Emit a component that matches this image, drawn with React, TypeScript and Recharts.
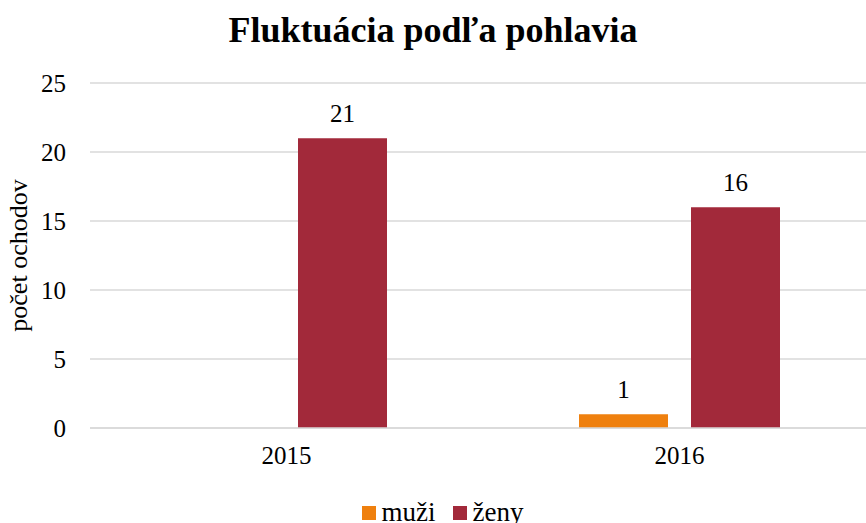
import React from 'react';
import { BarChart, Bar, XAxis, YAxis, CartesianGrid, Legend, LabelList, Label } from 'recharts';

const years = ['2015', '2016'];
const muzi = [0, 1];
const zeny = [21, 16];
const yTicks = [0, 5, 10, 15, 20, 25];

const data = years.map((year, i) => ({ year, muzi: muzi[i], zeny: zeny[i] }));

const FONT = '"Liberation Serif", "Times New Roman", serif';
const ORANGE = '#EF800E';
const RED = '#A2293A';

// legend with Excel-like spacing
const renderLegend = (props: any) => {
  const items = props.payload || [];
  return (
    <div style={{ display: 'flex', justifyContent: 'center', paddingLeft: 9, fontSize: 27, lineHeight: '31px', fontFamily: FONT, color: '#000' }}>
      {items.map((p: any, i: number) => (
        <span key={i} style={{ display: 'inline-flex', alignItems: 'center', marginRight: i < items.length - 1 ? 17 : 0 }}>
          <span style={{ display: 'inline-block', width: 14, height: 14, background: p.color, marginRight: 6 }} />
          <span>{p.value}</span>
        </span>
      ))}
    </div>
  );
};

export default function App() {
  return (
    <div style={{ position: 'absolute', left: 0, top: 0, width: 866, height: 523, fontFamily: FONT, background: '#fff', overflow: 'hidden' }}>
      <div
        style={{
          position: 'absolute',
          top: 9,
          left: 0,
          width: 866,
          textAlign: 'center',
          fontSize: 36,
          fontWeight: 'bold',
          color: '#000',
          lineHeight: '42px',
        }}
      >
        Fluktuácia podľa pohlavia
      </div>
      <BarChart
        width={866}
        height={523}
        data={data}
        margin={{ top: 83, right: -10, bottom: 0, left: 0 }}
        barSize={89}
        barGap={23}
      >
        <CartesianGrid vertical={false} stroke="#D9D9D9" strokeWidth={1.5} />
        <XAxis
          dataKey="year"
          axisLine={{ stroke: '#D9D9D9', strokeWidth: 1.5 }}
          tickLine={false}
          tickSize={0}
          tickMargin={18}
          height={64}
          tick={{ fill: '#000', fontSize: 25, fontFamily: FONT }}
        />
        <YAxis
          domain={[0, 25]}
          ticks={yTicks}
          axisLine={false}
          tickLine={false}
          tickSize={0}
          tickMargin={24}
          width={90}
          tick={{ fill: '#000', fontSize: 25, fontFamily: FONT }}
        >
          <Label
            value="počet ochodov"
            angle={-90}
            position="insideLeft"
            offset={18}
            style={{ textAnchor: 'middle', fill: '#000', fontSize: 26, fontFamily: FONT }}
          />
        </YAxis>
        <Legend
          verticalAlign="bottom"
          content={renderLegend}
          wrapperStyle={{ bottom: -5 }}
        />
        <Bar dataKey="muzi" name="muži" fill={ORANGE} isAnimationActive={false}>
          <LabelList dataKey="muzi" position="top" offset={16} style={{ fill: '#000', fontSize: 25, fontFamily: FONT }} />
        </Bar>
        <Bar dataKey="zeny" name="ženy" fill={RED} isAnimationActive={false}>
          <LabelList dataKey="zeny" position="top" offset={16} style={{ fill: '#000', fontSize: 25, fontFamily: FONT }} />
        </Bar>
      </BarChart>
    </div>
  );
}
